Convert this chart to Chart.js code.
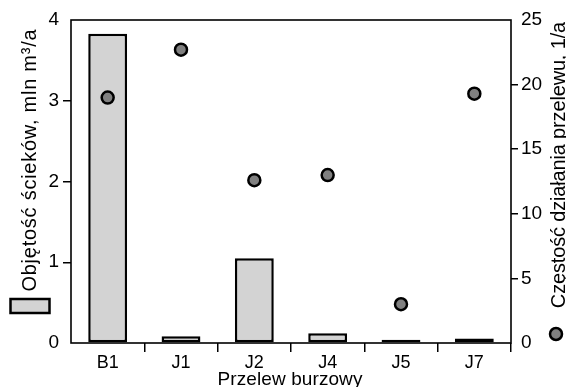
<!DOCTYPE html>
<html>
<head>
<meta charset="utf-8">
<script src="https://cdn.jsdelivr.net/npm/chart.js@4"></script>
<style>
html,body{margin:0;padding:0;background:#fff;}
#wrap{width:566px;height:387px;position:relative;}
</style>
</head>
<body>
<div id="wrap"><canvas id="c" width="566" height="387"></canvas></div>
<script>
const categories = ['B1','J1','J2','J4','J5','J7'];
const volume = [3.83, 0.085, 1.05, 0.12, 0.04, 0.055];
const frequency = [19.0, 22.7, 12.6, 13.0, 3.0, 19.3];
const leftTicks = [0,1,2,3,4];
const rightTicks = [0,5,10,15,20,25];
const leftTitle = 'Objętość ścieków, mln m³/a';
const rightTitle = 'Częstość działania przelewu, 1/a';
const xTitle = 'Przelew burzowy';

const FONT = '"Liberation Sans", Arial, sans-serif';

function fitText(ctx, text, x, y, targetLen) {
  ctx.letterSpacing = '0px';
  const w0 = ctx.measureText(text).width;
  const n = [...text].length;
  let spacing = (targetLen - w0) / n;
  if ('letterSpacing' in ctx) {
    ctx.letterSpacing = spacing.toFixed(2) + 'px';
    const w = ctx.measureText(text).width;
    ctx.textAlign = 'left';
    ctx.fillText(text, x - (w - spacing) / 2, y);
    ctx.letterSpacing = '0px';
  } else {
    ctx.save();
    ctx.translate(x, y);
    ctx.scale(targetLen / w0, 1);
    ctx.textAlign = 'center';
    ctx.fillText(text, 0, 0);
    ctx.restore();
  }
}

const decor = {
  id: 'decor',
  afterDraw(chart) {
    const ctx = chart.ctx;
    const a = chart.chartArea;
    ctx.save();
    ctx.strokeStyle = '#000';
    ctx.lineWidth = 1.6;
    ctx.strokeRect(a.left, a.top, a.right - a.left, a.bottom - a.top);
    ctx.fillStyle = '#000';
    ctx.textBaseline = 'alphabetic';
    // x title
    ctx.font = '19px ' + FONT;
    fitText(ctx, xTitle, 290, 385, 145);
    ctx.font = '20px ' + FONT;
    // left title (rotated)
    ctx.save();
    ctx.translate(36, 160.5);
    ctx.rotate(-Math.PI / 2);
    fitText(ctx, leftTitle, 0, 0, 263);
    ctx.restore();
    // left legend swatch
    ctx.fillStyle = '#d3d3d3';
    ctx.fillRect(10.5, 299, 39, 14);
    ctx.lineWidth = 2.5;
    ctx.strokeStyle = '#000';
    ctx.strokeRect(10.5, 299, 39, 14);
    // right title
    ctx.fillStyle = '#000';
    ctx.save();
    ctx.translate(565, 165);
    ctx.rotate(-Math.PI / 2);
    fitText(ctx, rightTitle, 0, 0, 286);
    ctx.restore();
    // right legend marker
    ctx.beginPath();
    ctx.arc(556, 334, 6, 0, Math.PI * 2);
    ctx.fillStyle = '#808080';
    ctx.fill();
    ctx.lineWidth = 2.5;
    ctx.strokeStyle = '#000';
    ctx.stroke();
    ctx.restore();
  }
};

function edgeHidden(n) {
  return (ctx) => (ctx.index === 0 || ctx.index === n) ? 'rgba(0,0,0,0)' : '#000';
}

new Chart(document.getElementById('c'), {
  type: 'bar',
  data: {
    labels: categories,
    datasets: [
      {
        type: 'line',
        label: rightTitle,
        data: frequency,
        yAxisID: 'y2',
        showLine: false,
        pointRadius: 6,
        pointBackgroundColor: '#808080',
        pointBorderColor: '#000',
        pointBorderWidth: 2.5,
        order: 0
      },
      {
        type: 'bar',
        label: leftTitle,
        data: volume,
        yAxisID: 'y',
        backgroundColor: '#d3d3d3',
        borderColor: '#000',
        borderWidth: 2.5,
        borderSkipped: false,
        categoryPercentage: 1,
        barPercentage: 0.53,
        order: 1
      }
    ]
  },
  options: {
    responsive: false,
    animation: false,
    devicePixelRatio: 1,
    layout: { padding: { top: 20, left: 0, right: 0, bottom: 0 } },
    plugins: { legend: { display: false }, tooltip: { enabled: false } },
    scales: {
      x: {
        offset: true,
        grid: { offset: true, drawOnChartArea: false, drawTicks: true, tickLength: 9, color: edgeHidden(6), lineWidth: 1.5 },
        border: { display: false },
        ticks: { color: '#000', font: { family: FONT, size: 18 }, padding: 0, maxRotation: 0 },
        afterFit(s) { s.height = 44; }
      },
      y: {
        position: 'left',
        min: 0, max: 4,
        afterBuildTicks(s) { s.ticks = leftTicks.map(v => ({ value: v })); },
        grid: { drawOnChartArea: false, tickLength: 8, color: edgeHidden(4), lineWidth: 1.5 },
        border: { display: false },
        ticks: { color: '#000', font: { family: FONT, size: 19 }, padding: 4 },
        afterFit(s) { s.width = 71; }
      },
      y2: {
        position: 'right',
        min: 0, max: 25,
        afterBuildTicks(s) { s.ticks = rightTicks.map(v => ({ value: v })); },
        grid: { drawOnChartArea: false, tickLength: 7, color: edgeHidden(5), lineWidth: 1.5 },
        border: { display: false },
        ticks: { color: '#000', font: { family: FONT, size: 19 }, padding: 3 },
        afterFit(s) { s.width = 55; }
      }
    }
  },
  plugins: [decor]
});
</script>
</body>
</html>
